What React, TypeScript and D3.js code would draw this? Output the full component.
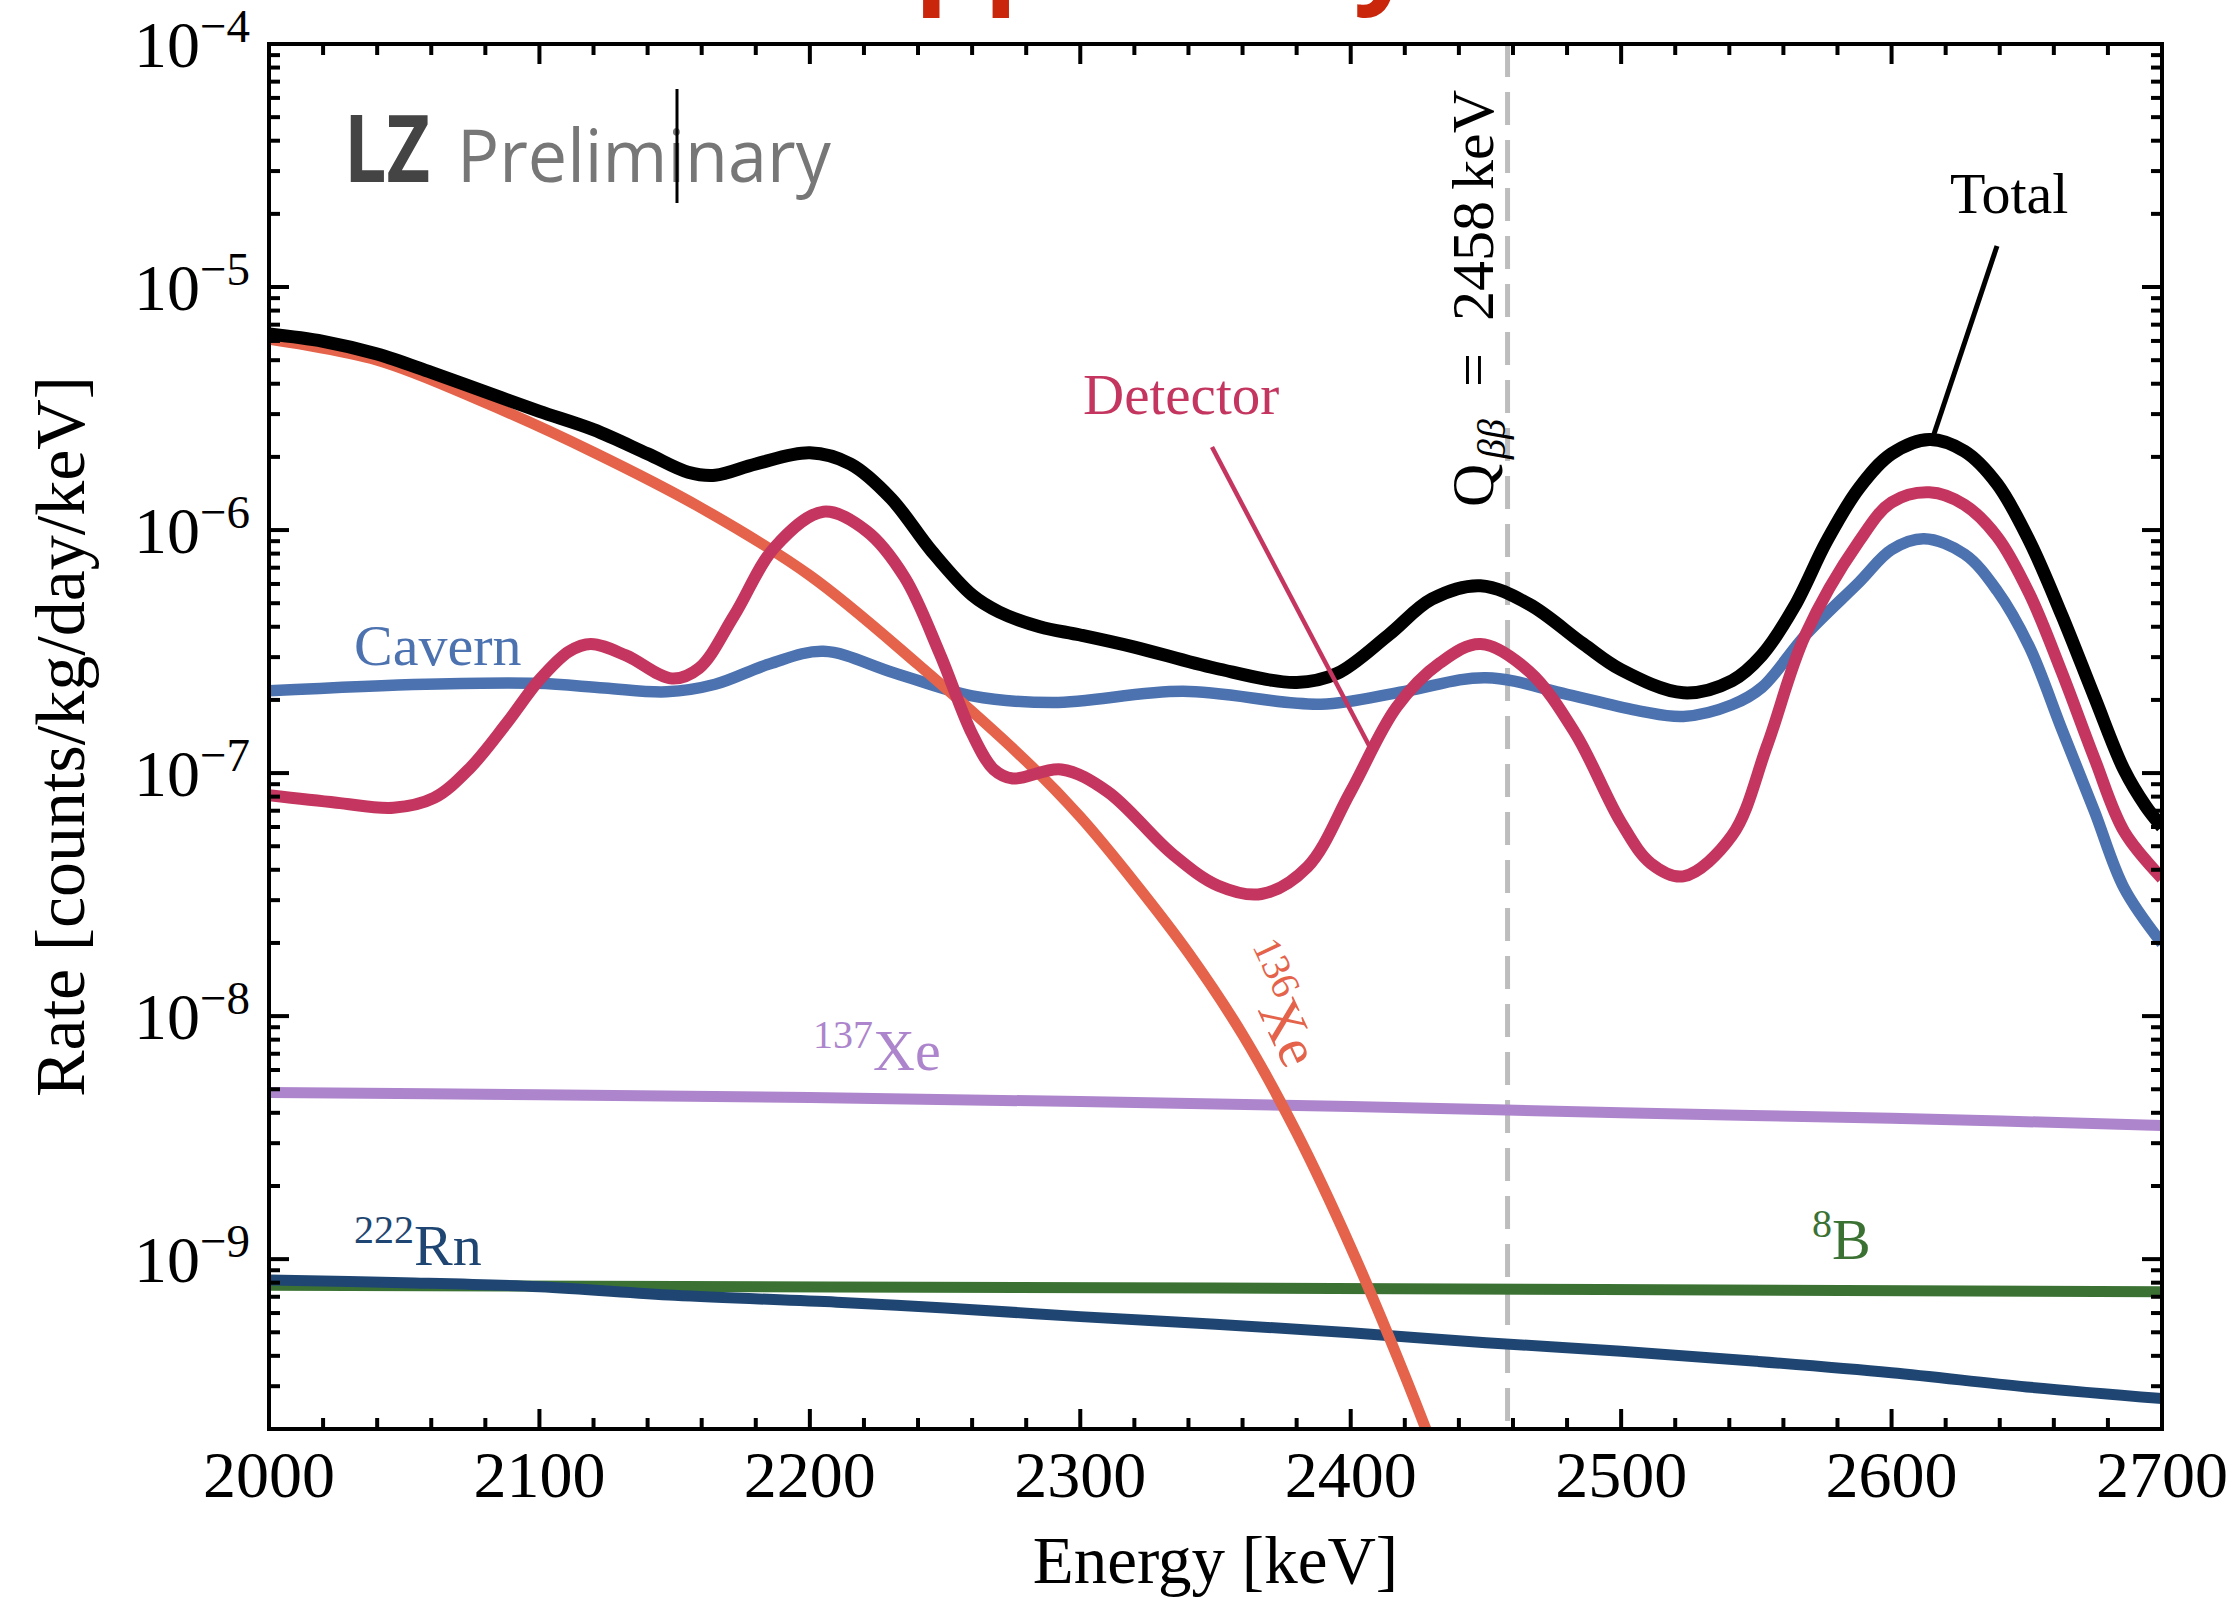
import React from "react";
import * as d3 from "d3";

const W = 2240;
const H = 1601;
const M = { left: 269, right: 2162, top: 44, bottom: 1429 };
const SERIF = "'Liberation Serif', 'Times New Roman', serif";

// energies [keV] and rates [counts/kg/day/keV]
const totalEnergy = [2000, 2020, 2040, 2060, 2080, 2100, 2120, 2140, 2155, 2165, 2180, 2200, 2215, 2230, 2245, 2260, 2270, 2285, 2300, 2320, 2350, 2380, 2395, 2414, 2430, 2448, 2466, 2486, 2500, 2523, 2541, 2552, 2564, 2576, 2588, 2600, 2614, 2627, 2639, 2651, 2663, 2675, 2686, 2694, 2700];
const totalRate = [6.41e-6, 5.98e-6, 5.3e-6, 4.45e-6, 3.7e-6, 3.08e-6, 2.59e-6, 2.06e-6, 1.73e-6, 1.68e-6, 1.87e-6, 2.08e-6, 1.87e-6, 1.35e-6, 8.2e-7, 5.4e-7, 4.6e-7, 4.0e-7, 3.7e-7, 3.3e-7, 2.7e-7, 2.36e-7, 2.57e-7, 3.7e-7, 5.2e-7, 5.9e-7, 4.95e-7, 3.4e-7, 2.66e-7, 2.14e-7, 2.4e-7, 3.05e-7, 4.83e-7, 9.0e-7, 1.49e-6, 2.06e-6, 2.36e-6, 2.11e-6, 1.55e-6, 9.0e-7, 4.45e-7, 2.06e-7, 1.03e-7, 7.3e-8, 6.0e-8];

const detectorEnergy = [2000, 2025, 2046, 2061, 2074, 2088, 2100, 2111, 2119, 2132, 2149, 2159, 2172, 2187, 2205, 2221, 2235, 2248, 2260, 2268, 2275, 2293, 2310, 2334, 2351, 2367, 2384, 2400, 2417, 2433, 2448, 2466, 2483, 2500, 2511, 2523, 2541, 2554, 2568, 2588, 2600, 2614, 2627, 2639, 2651, 2663, 2675, 2686, 2700];
const detectorRate = [8.1e-8, 7.55e-8, 7.2e-8, 7.9e-8, 1.04e-7, 1.61e-7, 2.42e-7, 3.17e-7, 3.4e-7, 3.05e-7, 2.45e-7, 2.7e-7, 4.45e-7, 8.5e-7, 1.19e-6, 9.9e-7, 6.4e-7, 3.11e-7, 1.45e-7, 1.035e-7, 9.5e-8, 1.035e-7, 8.4e-8, 4.65e-8, 3.44e-8, 3.18e-8, 4.11e-8, 8.4e-8, 1.87e-7, 2.84e-7, 3.4e-7, 2.62e-7, 1.46e-7, 6.25e-8, 4.25e-8, 3.76e-8, 5.53e-8, 1.3e-7, 3.68e-7, 9.0e-7, 1.3e-6, 1.43e-6, 1.27e-6, 9.4e-7, 5.46e-7, 2.59e-7, 1.15e-7, 5.75e-8, 3.69e-8];

const cavernEnergy = [2000, 2058, 2099, 2124, 2147, 2165, 2185, 2205, 2231, 2260, 2290, 2338, 2389, 2420, 2450, 2480, 2507, 2523, 2541, 2552, 2568, 2588, 2600, 2612, 2627, 2639, 2651, 2663, 2675, 2686, 2700];
const cavernRate = [2.18e-7, 2.32e-7, 2.34e-7, 2.24e-7, 2.16e-7, 2.32e-7, 2.81e-7, 3.17e-7, 2.59e-7, 2.08e-7, 1.95e-7, 2.17e-7, 1.92e-7, 2.17e-7, 2.47e-7, 2.11e-7, 1.8e-7, 1.71e-7, 1.91e-7, 2.25e-7, 3.68e-7, 6.1e-7, 8.3e-7, 9.2e-7, 7.96e-7, 5.64e-7, 3.3e-7, 1.51e-7, 6.97e-8, 3.36e-8, 1.99e-8];

const xe136Energy = [2000, 2040, 2080, 2120, 2160, 2200, 2240, 2280, 2300, 2320, 2340, 2360, 2380, 2400, 2420, 2440];
const xe136Rate = [6.1e-6, 5.0e-6, 3.34e-6, 2.09e-6, 1.23e-6, 6.5e-7, 2.8e-7, 1.12e-7, 6.6e-8, 3.56e-8, 1.82e-8, 8.4e-9, 3.31e-9, 1.12e-9, 3.32e-10, 8.8e-11];

const xe137Energy = [2000, 2100, 2200, 2300, 2400, 2500, 2600, 2700];
const xe137Rate = [4.85e-9, 4.75e-9, 4.62e-9, 4.45e-9, 4.25e-9, 4.0e-9, 3.8e-9, 3.55e-9];

const b8Energy = [2000, 2350, 2700];
const b8Rate = [7.8e-10, 7.6e-10, 7.35e-10];

const rn222Energy = [2000, 2050, 2100, 2150, 2210, 2250, 2300, 2350, 2400, 2450, 2500, 2550, 2600, 2650, 2700];
const rn222Rate = [8.2e-10, 8.0e-10, 7.7e-10, 7.1e-10, 6.65e-10, 6.3e-10, 5.8e-10, 5.4e-10, 4.98e-10, 4.53e-10, 4.18e-10, 3.8e-10, 3.41e-10, 2.98e-10, 2.67e-10];

const xTicks = [2000, 2100, 2200, 2300, 2400, 2500, 2600, 2700];
const yTickExponents = [-4, -5, -6, -7, -8, -9];
const qBetaBeta = 2458;

const series = [
  { name: "137Xe", energy: xe137Energy, rate: xe137Rate, color: "#ad85cc", width: 11 },
  { name: "8B", energy: b8Energy, rate: b8Rate, color: "#3b7233", width: 11 },
  { name: "222Rn", energy: rn222Energy, rate: rn222Rate, color: "#1f4672", width: 11 },
  { name: "Cavern", energy: cavernEnergy, rate: cavernRate, color: "#4c72b0", width: 11.5 },
  { name: "136Xe", energy: xe136Energy, rate: xe136Rate, color: "#e4634a", width: 11 },
  { name: "Detector", energy: detectorEnergy, rate: detectorRate, color: "#c4365f", width: 12 },
  { name: "Total", energy: totalEnergy, rate: totalRate, color: "#000000", width: 13 },
];

const x = d3.scaleLinear().domain([2000, 2700]).range([M.left, M.right]);
const y = d3.scaleLog().domain([2e-10, 1e-4]).range([M.bottom, M.top]);

const line = d3
  .line<[number, number]>()
  .x((d) => x(d[0]))
  .y((d) => y(d[1]))
  .curve(d3.curveCatmullRom.alpha(0.5));

export default function App() {
  const xMinor = d3.range(2000, 2701, 20).filter((v) => v % 100 !== 0);
  const yMinor: number[] = [];
  for (let e = -10; e <= -5; e++) {
    for (let m = 2; m <= 9; m++) {
      const v = m * Math.pow(10, e);
      if (v > 2e-10 && v < 1e-4) yMinor.push(v);
    }
  }
  const yMajor = yTickExponents.map((e) => Math.pow(10, e));

  return (
    <svg
      width={W}
      height={H}
      style={{ position: "fixed", left: 0, top: 0, background: "#fff" }}
      fontFamily={SERIF}
    >
      <rect x={0} y={0} width={W} height={H} fill="#fff" />
      {/* cut-off slide title, only its descenders are in frame */}
      <text x={848} y={-8} fontFamily="'Open Sans', sans-serif" fontWeight={700} fontSize={110} fill="#c9260c">
        applied by
      </text>

      <defs>
        <clipPath id="plot-clip">
          <rect x={M.left} y={M.top} width={M.right - M.left} height={M.bottom - M.top} />
        </clipPath>
      </defs>

      {/* Q value marker */}
      <line
        x1={x(qBetaBeta)}
        x2={x(qBetaBeta)}
        y1={M.top}
        y2={M.bottom}
        stroke="#bdbdbd"
        strokeWidth={5}
        strokeDasharray="33 15"
      />

      <g clipPath="url(#plot-clip)">
        {series.map((s) => (
          <path
            key={s.name}
            d={line(s.energy.map((e, i) => [e, s.rate[i]] as [number, number])) || ""}
            fill="none"
            stroke={s.color}
            strokeWidth={s.width}
          />
        ))}
      </g>

      {/* ticks */}
      <g stroke="#000" strokeWidth={4}>
        {xTicks.map((v) => (
          <g key={"xt" + v}>
            <line x1={x(v)} x2={x(v)} y1={M.bottom} y2={M.bottom - 20} />
            <line x1={x(v)} x2={x(v)} y1={M.top} y2={M.top + 20} />
          </g>
        ))}
        {xMinor.map((v) => (
          <g key={"xm" + v}>
            <line x1={x(v)} x2={x(v)} y1={M.bottom} y2={M.bottom - 11} />
            <line x1={x(v)} x2={x(v)} y1={M.top} y2={M.top + 11} />
          </g>
        ))}
        {yMajor.map((v) => (
          <g key={"yt" + v}>
            <line x1={M.left} x2={M.left + 20} y1={y(v)} y2={y(v)} />
            <line x1={M.right} x2={M.right - 20} y1={y(v)} y2={y(v)} />
          </g>
        ))}
        {yMinor.map((v) => (
          <g key={"ym" + v}>
            <line x1={M.left} x2={M.left + 11} y1={y(v)} y2={y(v)} />
            <line x1={M.right} x2={M.right - 11} y1={y(v)} y2={y(v)} />
          </g>
        ))}
      </g>
      <rect
        x={M.left}
        y={M.top}
        width={M.right - M.left}
        height={M.bottom - M.top}
        fill="none"
        stroke="#000"
        strokeWidth={4}
      />

      {/* tick labels */}
      {xTicks.map((v) => (
        <text key={"xl" + v} x={x(v)} y={1497} textAnchor="middle" fontSize={66}>
          {v}
        </text>
      ))}
      {yTickExponents.map((e) => (
        <text key={"yl" + e} x={250} y={y(Math.pow(10, e)) + 23} textAnchor="end" fontSize={66}>
          10
          <tspan dy={-25} fontSize={47}>
            {"\u2212" + Math.abs(e)}
          </tspan>
        </text>
      ))}

      {/* axis titles */}
      <text x={(M.left + M.right) / 2} y={1583} textAnchor="middle" fontSize={67}>
        Energy [keV]
      </text>
      <text transform={`translate(84,${(M.top + M.bottom) / 2}) rotate(-90)`} textAnchor="middle" fontSize={70}>
        Rate [counts/kg/day/keV]
      </text>

      {/* LZ Preliminary */}
      <g transform="translate(344,182) scale(0.8,1)">
        <text fontFamily="'Open Sans', sans-serif" fontWeight={700} fontSize={94} fill="#444">
          LZ
        </text>
      </g>
      <g transform="translate(457,182) scale(0.96,1)">
        <text fontFamily="'Open Sans', sans-serif" fontSize={73} fill="#777">
          Preliminary
        </text>
      </g>
      <line x1={677} x2={677} y1={89} y2={203} stroke="#000" strokeWidth={3} />

      {/* Q_bb label */}
      <text transform={`translate(1493,507) rotate(-90)`} fontSize={60}>
        <tspan x={0}>Q</tspan>
        <tspan x={48} dy={12} fontSize={40} fontStyle="italic">
          ββ
        </tspan>
        <tspan x={120} dy={-12}>=</tspan>
        <tspan x={186}>2458</tspan>
        <tspan x={317}>keV</tspan>
      </text>

      {/* series annotations */}
      <text x={1950} y={213} fontSize={58}>
        Total
      </text>
      <line x1={1997} y1={246} x2={1933} y2={437} stroke="#000" strokeWidth={5} />
      <text x={1083} y={414} fontSize={57} fill="#c4365f">
        Detector
      </text>
      <line x1={1212} y1={447} x2={1373} y2={753} stroke="#c4365f" strokeWidth={4.5} />
      <text x={354} y={665} fontSize={58} fill="#4c72b0">
        Cavern
      </text>
      <text x={813} y={1070} fontSize={58} fill="#ad85cc">
        <tspan fontSize={40} dy={-22}>137</tspan>
        <tspan dy={22}>Xe</tspan>
      </text>
      <text transform="translate(1232,955) rotate(65)" fontSize={58} fill="#e4634a">
        <tspan fontSize={40} dy={-22}>136</tspan>
        <tspan dy={22}>Xe</tspan>
      </text>
      <text x={354} y={1265} fontSize={58} fill="#1f4672">
        <tspan fontSize={40} dy={-22}>222</tspan>
        <tspan dy={22}>Rn</tspan>
      </text>
      <text x={1812} y={1259} fontSize={58} fill="#3b7233">
        <tspan fontSize={40} dy={-22}>8</tspan>
        <tspan dy={22}>B</tspan>
      </text>
    </svg>
  );
}
